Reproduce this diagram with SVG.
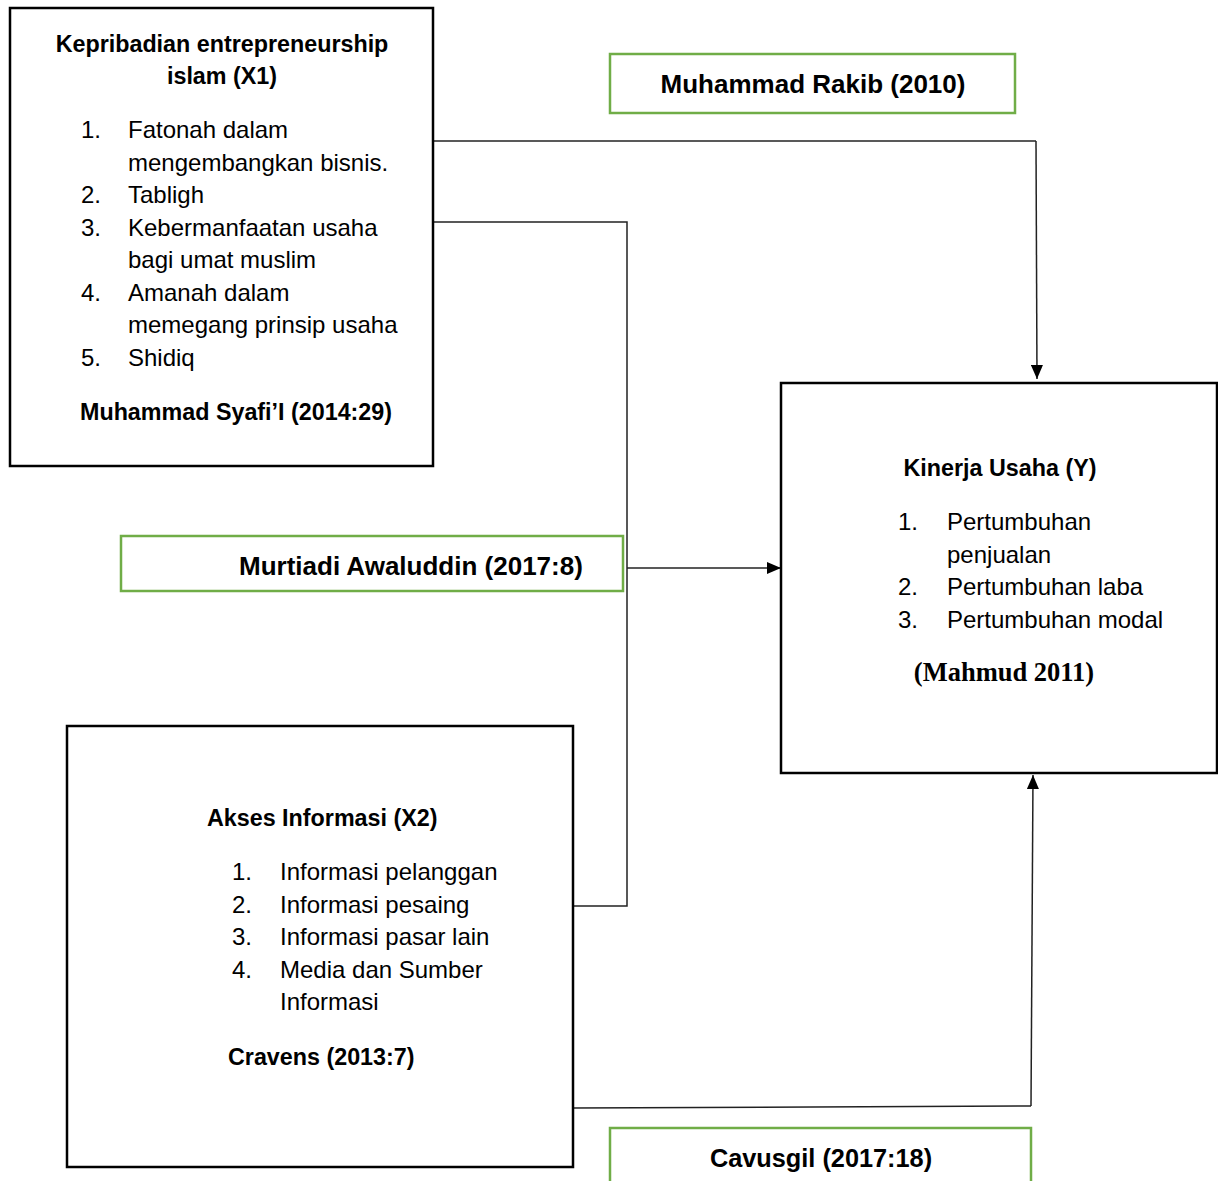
<svg xmlns="http://www.w3.org/2000/svg" width="1218" height="1181" viewBox="0 0 1218 1181">
<defs>
<style>
.box{fill:#fff;stroke:#000;stroke-width:2.5}
.gbox{fill:#fff;stroke:#70AD47;stroke-width:2.5}
.t{font-family:"Liberation Sans",Arial,sans-serif;font-size:24px;fill:#000}
.b{font-family:"Liberation Sans",Arial,sans-serif;font-size:23.3px;font-weight:bold;fill:#000}
.g{font-family:"Liberation Sans",Arial,sans-serif;font-size:26px;font-weight:bold;fill:#000}
.s{font-family:"Liberation Serif","Times New Roman",serif;font-size:26.5px;font-weight:bold;fill:#000}
.c{fill:none;stroke:#222;stroke-width:1.5}
</style>
<marker id="ah" viewBox="0 0 14 12" refX="14" refY="6" markerWidth="14" markerHeight="12" markerUnits="userSpaceOnUse" orient="auto">
<path d="M0,0 L14,6 L0,12 Z" fill="#000"/>
</marker>
</defs>
<rect width="1218" height="1181" fill="#fff"/>

<g id="connectors">
<polyline class="c" points="433,141 1036,141"/>
<line class="c" x1="1036" y1="141" x2="1037" y2="379" marker-end="url(#ah)"/>
<polyline class="c" points="433,222 627,222 627,906 573,906"/>
<line class="c" x1="627" y1="568" x2="781" y2="568" marker-end="url(#ah)"/>
<polyline class="c" points="573,1108 1031,1106"/>
<line class="c" x1="1031" y1="1106" x2="1033" y2="775" marker-end="url(#ah)"/>
</g>

<g id="x1">
<rect class="box" x="10" y="8" width="423" height="458"/>
<text class="b" x="222" y="52" text-anchor="middle">Kepribadian entrepreneurship</text>
<text class="b" x="222" y="84" text-anchor="middle">islam (X1)</text>
<text class="t" x="81" y="138">1.</text><text class="t" x="128" y="138">Fatonah dalam</text>
<text class="t" x="128" y="170.5">mengembangkan bisnis.</text>
<text class="t" x="81" y="203">2.</text><text class="t" x="128" y="203">Tabligh</text>
<text class="t" x="81" y="235.5">3.</text><text class="t" x="128" y="235.5">Kebermanfaatan usaha</text>
<text class="t" x="128" y="268">bagi umat muslim</text>
<text class="t" x="81" y="300.5">4.</text><text class="t" x="128" y="300.5">Amanah dalam</text>
<text class="t" x="128" y="333">memegang prinsip usaha</text>
<text class="t" x="81" y="365.5">5.</text><text class="t" x="128" y="365.5">Shidiq</text>
<text class="b" x="80" y="420">Muhammad Syafi’I (2014:29)</text>
</g>

<g id="rakib">
<rect class="gbox" x="610" y="54" width="405" height="59"/>
<text class="g" x="813" y="93" text-anchor="middle">Muhammad Rakib (2010)</text>
</g>

<g id="murtiadi">
<rect class="gbox" x="121" y="536" width="502" height="55"/>
<text class="g" x="239" y="575">Murtiadi Awaluddin (2017:8)</text>
</g>

<g id="y">
<rect class="box" x="781" y="383" width="436" height="390"/>
<text class="b" x="1000" y="476" text-anchor="middle">Kinerja Usaha (Y)</text>
<text class="t" x="898" y="530">1.</text><text class="t" x="947" y="530">Pertumbuhan</text>
<text class="t" x="947" y="562.5">penjualan</text>
<text class="t" x="898" y="595">2.</text><text class="t" x="947" y="595">Pertumbuhan laba</text>
<text class="t" x="898" y="627.5">3.</text><text class="t" x="947" y="627.5">Pertumbuhan modal</text>
<text class="s" x="1004" y="681" text-anchor="middle">(Mahmud 2011)</text>
</g>

<g id="x2">
<rect class="box" x="67" y="726" width="506" height="441"/>
<text class="b" x="207" y="826">Akses Informasi (X2)</text>
<text class="t" x="232" y="880">1.</text><text class="t" x="280" y="880">Informasi pelanggan</text>
<text class="t" x="232" y="912.5">2.</text><text class="t" x="280" y="912.5">Informasi pesaing</text>
<text class="t" x="232" y="945">3.</text><text class="t" x="280" y="945">Informasi pasar lain</text>
<text class="t" x="232" y="977.5">4.</text><text class="t" x="280" y="977.5">Media dan Sumber</text>
<text class="t" x="280" y="1010">Informasi</text>
<text class="b" x="228" y="1065">Cravens (2013:7)</text>
</g>

<g id="cavusgil">
<rect class="gbox" x="610" y="1128" width="421" height="60"/>
<text class="g" x="821" y="1167" text-anchor="middle" style="font-size:25.3px">Cavusgil (2017:18)</text>
</g>
</svg>
